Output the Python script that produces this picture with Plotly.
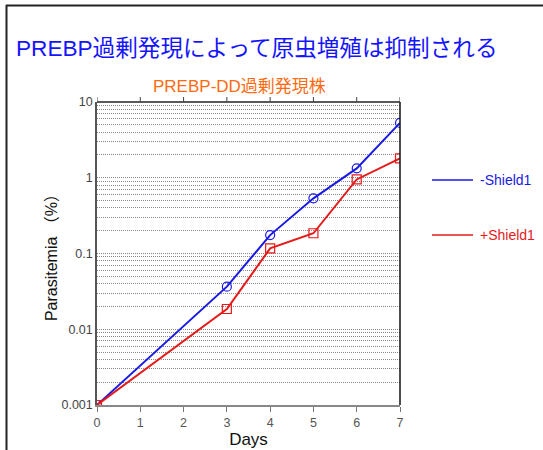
import plotly.graph_objects as go

days = [0, 3, 4, 5, 6, 7]
minus_shield = [0.001, 0.0365, 0.175, 0.535, 1.33, 5.3]
plus_shield = [0.001, 0.0185, 0.117, 0.185, 0.95, 1.80]
series_names = ["-Shield1", "+Shield1"]
x_ticks = [0, 1, 2, 3, 4, 5, 6, 7]
y_ticks = [0.001, 0.01, 0.1, 1, 10]
y_tick_labels = ["0.001", "0.01", "0.1", "1", "10"]

BLUE = "#1a1ae6"
RED = "#e61a1a"
W, H = 543, 450
L, R, T, B = 97, 143, 102, 45
pw, ph = W - L - R, H - T - B

def px_x(p):
    return (p - L) / pw

def px_y(p):
    return (H - B - p) / ph

fig = go.Figure()
fig.add_trace(go.Scatter(x=days, y=minus_shield, mode="lines+markers", name=series_names[0],
                         line=dict(color=BLUE, width=2),
                         marker=dict(symbol="circle-open", size=9, color=BLUE, line=dict(width=1.2))))
fig.add_trace(go.Scatter(x=days, y=plus_shield, mode="lines+markers", name=series_names[1],
                         line=dict(color=RED, width=2),
                         marker=dict(symbol="square-open", size=9, color=RED, line=dict(width=1.2))))

fig.update_layout(
    width=W, height=H,
    margin=dict(l=L, r=R, t=T, b=B, autoexpand=False),
    paper_bgcolor="white", plot_bgcolor="white",
    font=dict(family="Liberation Sans, Arial, Noto Sans CJK JP", color="#333"),
    showlegend=False,
)

GRID = dict(gridcolor="#888", griddash="1px,1px", gridwidth=1)
fig.update_xaxes(range=[0, 7], tickvals=x_ticks, ticks="outside", ticklen=5, tickwidth=1,
                 tickcolor="#777", showline=True, linecolor="#888", linewidth=2,
                 mirror=False, showgrid=False, zeroline=False, automargin=False,
                 tickfont=dict(size=12.5, color="#555"),
                 title=dict(text="Days", font=dict(size=17, color="#111"), standoff=4))
fig.update_yaxes(type="log", range=[-3, 1], tickvals=y_ticks, ticktext=y_tick_labels,
                 ticks="", showline=True, linecolor="#555", linewidth=1.5, mirror=False,
                 showgrid=True, **GRID,
                 minor=dict(showgrid=True, dtick="D1", **GRID),
                 zeroline=False, automargin=False, tickfont=dict(size=12.5, color="#444"),
                 title=dict(text="Parasitemia （%）", font=dict(size=16, color="#111"), standoff=0))

# right border and top border with ticks
fig.add_shape(type="line", xref="paper", yref="paper", x0=1, x1=1, y0=0, y1=1,
              line=dict(color="#111", width=1.5))
fig.add_shape(type="line", xref="paper", yref="paper", x0=0, x1=1, y0=1, y1=1,
              line=dict(color="#222", width=1.5))
for d in x_ticks:
    fig.add_shape(type="line", xref="x", yref="paper", x0=d, x1=d, y0=1, y1=1 + 5 / ph,
                  line=dict(color="#444", width=1))

# slide frame (top and left)
fig.add_shape(type="line", xref="paper", yref="paper", x0=px_x(6), x1=px_x(W + 5),
              y0=px_y(5.5), y1=px_y(5.5), line=dict(color="#222", width=2))
fig.add_shape(type="line", xref="paper", yref="paper", x0=px_x(6.5), x1=px_x(6.5),
              y0=px_y(5), y1=px_y(H + 5), line=dict(color="#222", width=2))

# legend (line keys + labels)
for nm, col, yy in zip(series_names, [BLUE, RED], [180, 235]):
    fig.add_shape(type="line", xref="paper", yref="paper", x0=px_x(432), x1=px_x(473),
                  y0=px_y(yy), y1=px_y(yy), line=dict(color=col, width=1.5))
    fig.add_annotation(text=nm, xref="paper", yref="paper", x=px_x(478), y=px_y(yy),
                       xanchor="left", yanchor="middle", showarrow=False,
                       font=dict(size=14, color=col))

fig.add_annotation(text="PREBP過剰発現によって原虫増殖は抑制される", xref="paper", yref="paper",
                   x=px_x(14), y=px_y(48), xanchor="left", yanchor="middle", showarrow=False,
                   font=dict(size=22.6, color="#1414ff", family="Liberation Sans, Noto Sans CJK JP"))
fig.add_annotation(text="PREBP-DD過剰発現株", xref="paper", yref="paper",
                   x=px_x(239), y=px_y(87), xanchor="center", yanchor="middle", showarrow=False,
                   font=dict(size=17, color="#ff6a10", family="Liberation Sans, Noto Sans CJK JP"))

fig.write_html("out.html", config={"displayModeBar": False},
               post_script="document.body.style.margin='0';document.body.style.overflow='hidden';")
